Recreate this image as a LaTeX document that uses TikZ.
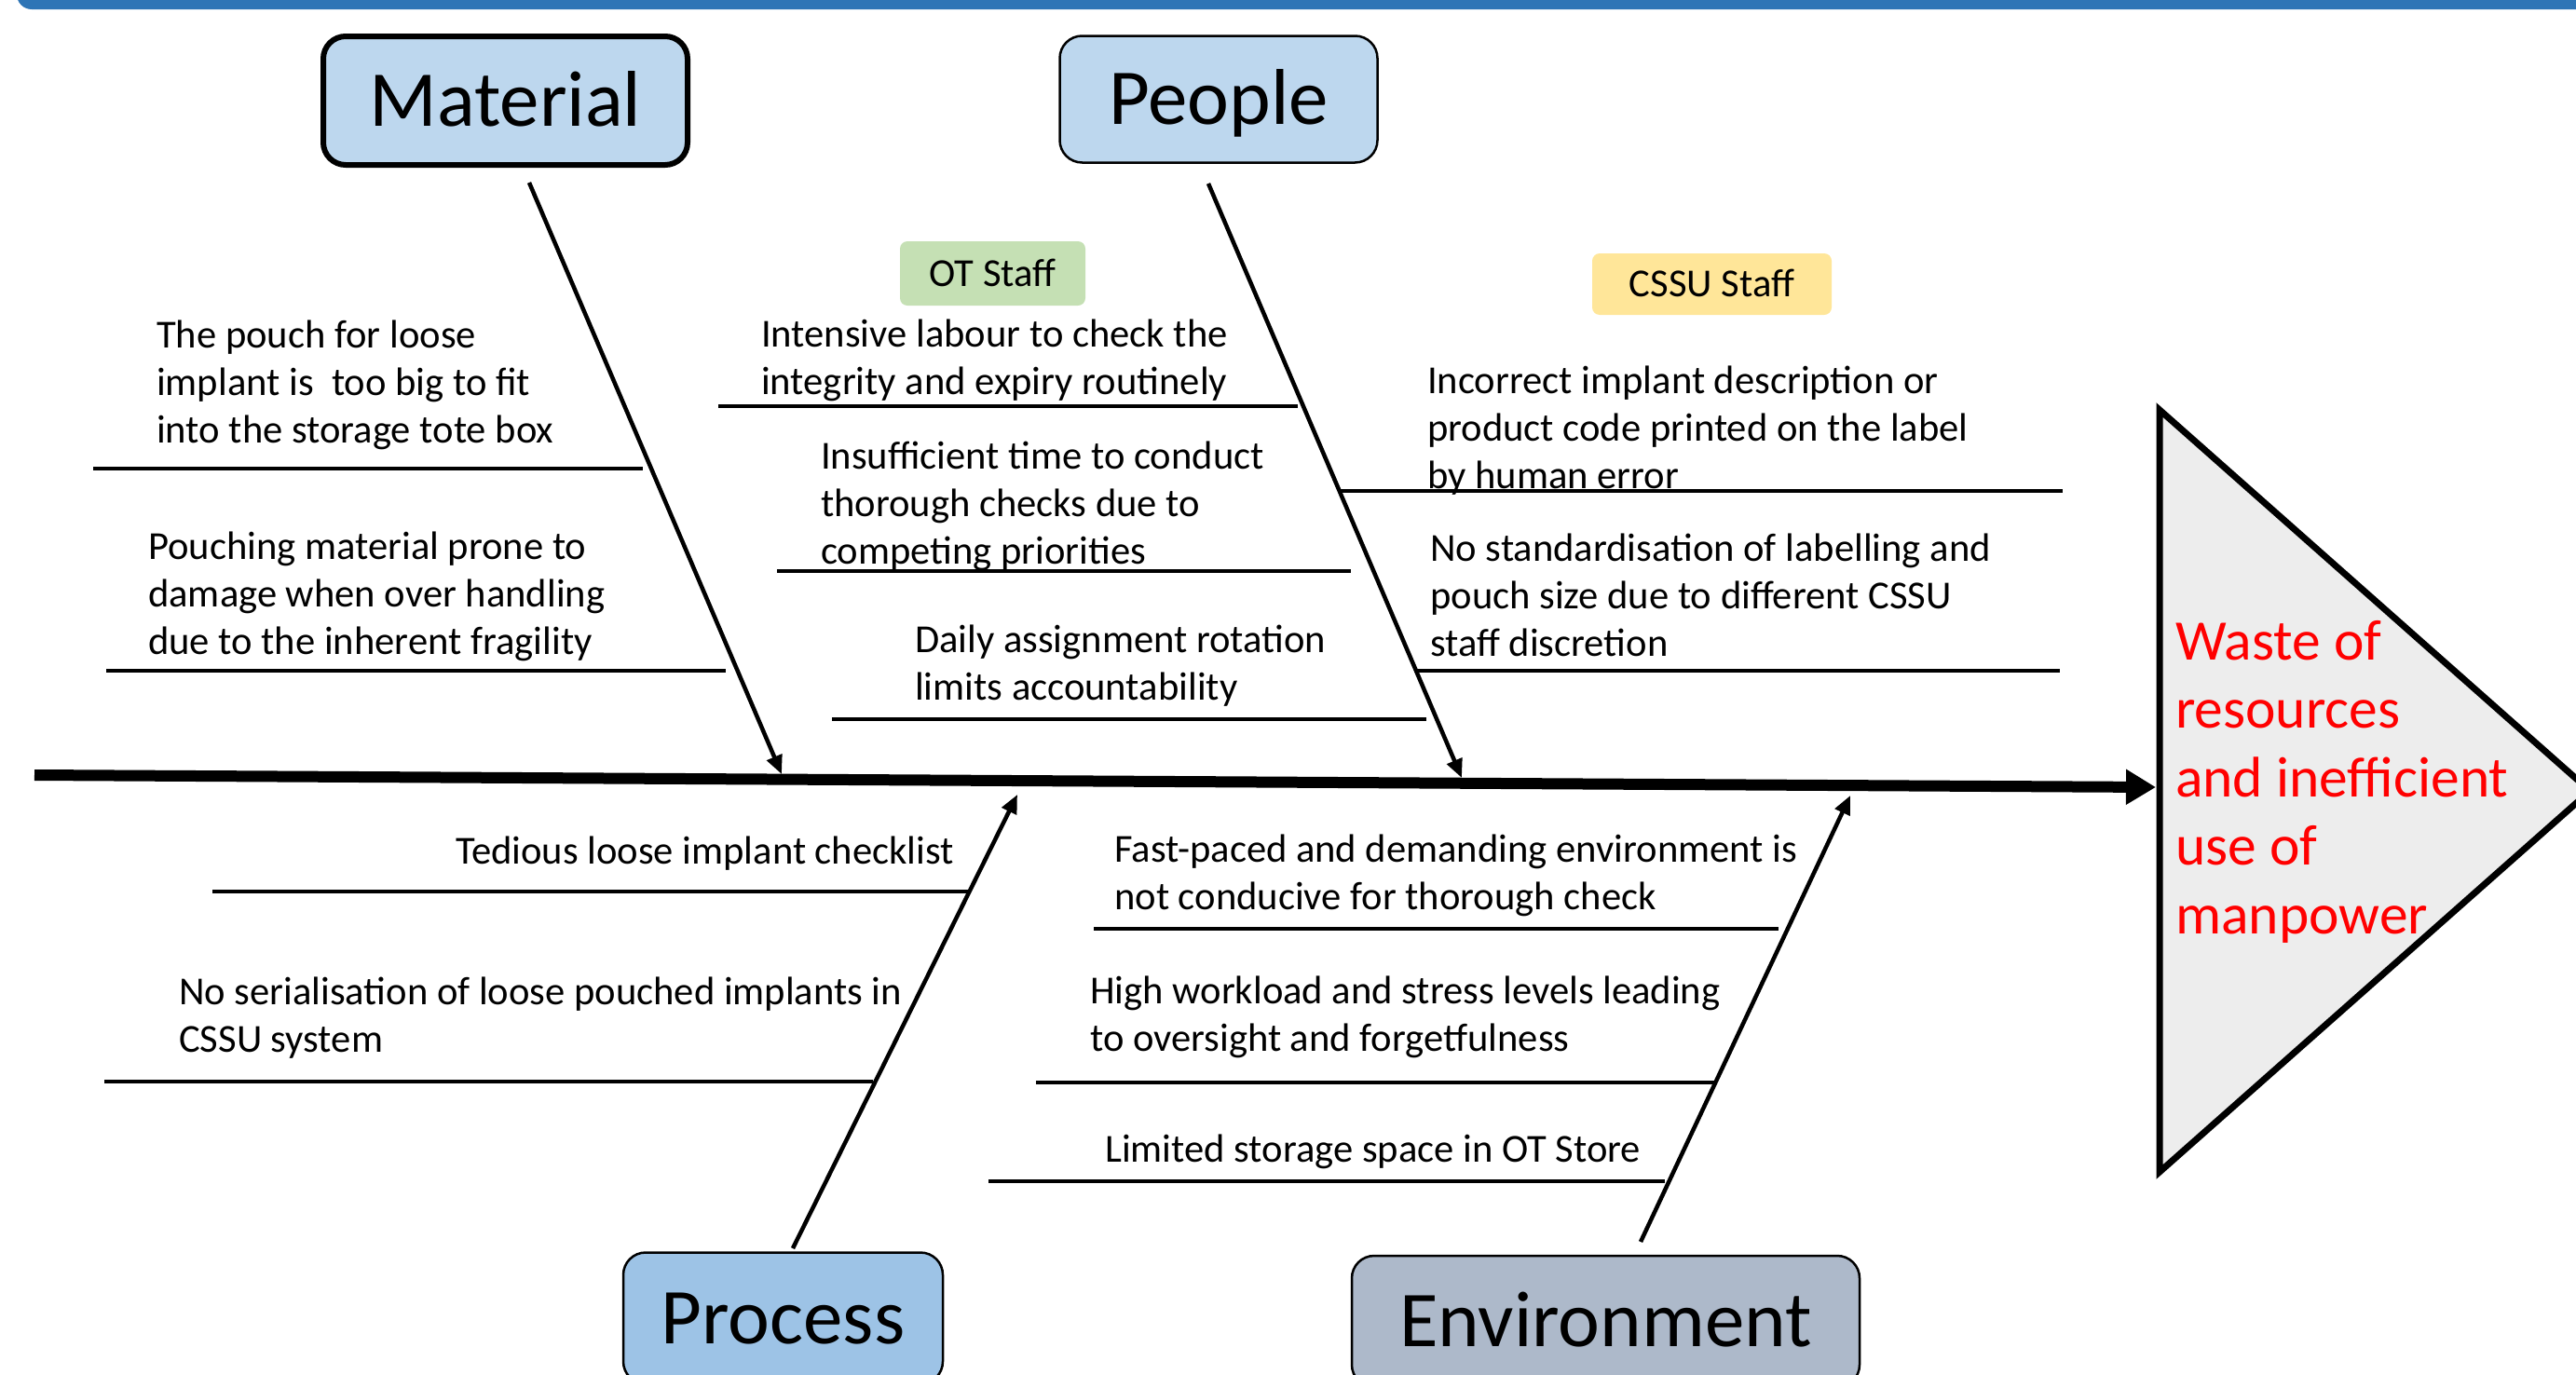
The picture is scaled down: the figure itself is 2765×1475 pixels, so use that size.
\documentclass[tikz,border=0pt]{standalone}
\usepackage{fontspec}
\setmainfont{Carlito}
\usetikzlibrary{arrows.meta}
\definecolor{barblue}{HTML}{2E75B6}
\definecolor{matfill}{HTML}{BDD7EE}
\definecolor{procfill}{HTML}{9DC3E6}
\definecolor{envfill}{HTML}{ADB9CA}
\definecolor{otgreen}{HTML}{C5E0B4}
\definecolor{cssuyellow}{HTML}{FFE699}
\definecolor{headgray}{HTML}{EDEDED}
\definecolor{effectred}{HTML}{FF0000}
\newcommand\mlines[1]{\vtop{\halign{##\hfil\cr#1\crcr}}}
\begin{document}
\begin{tikzpicture}[x=1pt,y=-1pt,
  cause/.style={anchor=base west, inner sep=0pt, font=\fontsize{42.6}{51}\selectfont},
  uline/.style={line width=3.5pt},
  bone/.style={line width=4.5pt, -{Triangle[length=20pt,width=17pt]}},
  catbox/.style={draw, rounded corners=24pt, inner sep=0pt, text height=54.5pt, text depth=0pt, font=\fontsize{85}{100}\selectfont},
  staffbox/.style={rounded corners=8pt, inner sep=0pt, text height=27pt, text depth=0pt, font=\fontsize{42.6}{51}\selectfont}
]
\useasboundingbox (0,0) rectangle (2765,1475);

% top bar
\fill[barblue, rounded corners=16pt] (18,-40) rectangle (2830,10);

% category boxes
\node[catbox, line width=6pt, fill=matfill, minimum width=391pt, minimum height=138pt] (material) at (542.5,108) {Material};
\node[catbox, line width=2.5pt, fill=matfill, minimum width=341pt, minimum height=136pt] (people) at (1308,106.5) {People};
\node[catbox, line width=2.5pt, fill=procfill, minimum width=343pt, minimum height=141pt] (process) at (840.5,1415) {Process};
\node[catbox, line width=2.5pt, fill=envfill, minimum width=545pt, minimum height=141pt] (environment) at (1723.5,1418.5) {Environment};

% staff tags
\node[staffbox, fill=otgreen, minimum width=199pt, minimum height=69pt] (ot) at (1065.5,293.5) {OT Staff};
\node[staffbox, fill=cssuyellow, minimum width=257pt, minimum height=66pt] (cssu) at (1837.5,305) {CSSU Staff};

% bones
\coordinate (mtop) at (568,196);
\coordinate (mtip) at (839,831);
\coordinate (ptop) at (1297,197);
\coordinate (ptip) at (1569,835);
\coordinate (prbot) at (851,1340);
\coordinate (prtip) at (1092,853);
\coordinate (ebot) at (1761,1333);
\coordinate (etip) at (1986,854);
\draw[bone] (mtop) -- (mtip);
\draw[bone] (ptop) -- (ptip);
\draw[bone] (prbot) -- (prtip);
\draw[bone] (ebot) -- (etip);

% underlines
\draw[uline] (100,503) -- (690,503);
\draw[uline] (114,720) -- (779,720);
\draw[uline] (771,436) -- (1393,436);
\draw[uline] (834,613) -- (1450,613);
\draw[uline] (893,772) -- (1531,772);
\draw[uline] (1439,527) -- (2214,527);
\draw[uline] (1518,720) -- (2211,720);
\draw[uline] (228,957) -- (1040,957);
\draw[uline] (112,1161) -- (937,1161);
\draw[uline] (1174,997) -- (1909,997);
\draw[uline] (1112,1162) -- (1840,1162);
\draw[uline] (1061,1268) -- (1787,1268);

% spine
\coordinate (sstart) at (37,832);
\coordinate (stip) at (2314,845);
\draw[line width=12pt, -{Triangle[length=32pt,width=36pt]}] (sstart) -- (stip);

% fish head
\draw[line width=7pt, fill=headgray, line join=miter] (2318,440) -- (2780,849) -- (2318,1258) -- cycle;

% cause texts
\node[cause] (c1) at (168,373) {\mlines{The pouch for loose\cr implant is \ too big to fit\cr into the storage tote box}};
\node[cause] (c2) at (159,600) {\mlines{Pouching material prone to\cr damage when over handling\cr due to the inherent fragility}};
\node[cause] (c3) at (817,372) {\mlines{Intensive labour to check the\cr integrity and expiry routinely}};
\node[cause] (c4) at (881,503) {\mlines{Insufficient time to conduct\cr thorough checks due to\cr competing priorities}};
\node[cause] (c5) at (982,700) {\mlines{Daily assignment rotation\cr limits accountability}};
\node[cause] (c6) at (1532,422) {\mlines{Incorrect implant description or\cr product code printed on the label\cr by human error}};
\node[cause] (c7) at (1535,602) {\mlines{No standardisation of labelling and\cr pouch size due to different CSSU\cr staff discretion}};
\node[cause] (c8) at (489,927) {Tedious loose implant checklist};
\node[cause] (c9) at (192,1078) {\mlines{No serialisation of loose pouched implants in\cr CSSU system}};
\node[cause] (c10) at (1196,925) {\mlines{Fast-paced and demanding environment is\cr not conducive for thorough check}};
\node[cause] (c11) at (1170,1077) {\mlines{High workload and stress levels leading\cr to oversight and forgetfulness}};
\node[cause] (c12) at (1186,1247) {Limited storage space in OT Store};

% effect
\node[anchor=base west, inner sep=0pt, text=effectred, font=\fontsize{61.5}{73.5}\selectfont] (effect) at (2335,708) {\mlines{Waste of\cr resources\cr and inefficient\cr use of\cr manpower}};
\end{tikzpicture}
\end{document}
